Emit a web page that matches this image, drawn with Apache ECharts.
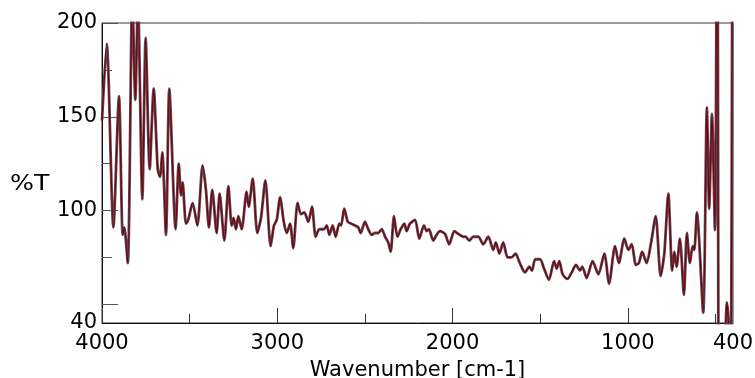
<!DOCTYPE html>
<html>
<head>
<meta charset="utf-8">
<script src="https://cdn.jsdelivr.net/npm/echarts@6/dist/echarts.min.js"></script>
<style>
html,body{margin:0;padding:0;background:#fff;}
#chart{width:755px;height:378px;}
</style>
</head>
<body>
<div id="chart"></div>
<script>
// Wavenumber (cm-1) and %T
var wavenumbers = [4000,3973,3935,3903,3882,3873,3853,3827,3810,3795,3770,3751,3728,3705,3682,3669,3656,3635,3616,3580,3562,3549,3540,3521,3508,3483,3456,3426,3407,3390,3371,3346,3329,3302,3279,3260,3249,3236,3222,3203,3175,3163,3140,3114,3093,3068,3038,3019,3003,2984,2963,2946,2927,2909,2884,2865,2846,2823,2802,2781,2760,2734,2718,2703,2684,2667,2646,2636,2618,2598,2579,2557,2538,2524,2500,2481,2461,2443,2424,2404,2385,2367,2353,2334,2315,2296,2275,2262,2243,2214,2190,2163,2148,2135,2110,2091,2072,2043,2019,1990,1967,1939,1925,1905,1882,1853,1825,1796,1768,1753,1733,1711,1686,1663,1640,1621,1602,1587,1562,1547,1528,1501,1478,1450,1421,1406,1391,1372,1345,1320,1296,1273,1260,1235,1201,1168,1134,1107,1073,1051,1020,997,978,954,937,918,893,868,841,813,792,769,747,735,722,703,680,663,646,630,621,606,570,549,536,520,503,490,478,460,442,435,425,418,410,405,400];
var transmittance = [148,189,91,161,87,91,72,215,159,212,106,192,122,165,122,118,131,87,165,90,125,108,115,93,95,104,92,124,111,91,111,88,109,84,113,92,96,90,97,90,110,102,117,88,96,116,81,92,95,107,94,88,93,80,104,98,99,94,102,86,90,90,92,87,92,86,93,92,101,94,93,92,91,88,94,90,87,88,88,90,86,83,78,97,86,90,93,89,93,95,85,92,89,90,84,87,89,87.5,82,89,87.5,86,86,84,86,86,82,86,79,83,77,83,75,75,77,73,69,67,70,68,74,74,69,63,73,69,73,66,63.5,67,71,68,70,64,73,66,77,61,81,72,85,79,82,71,72,78,72,82.5,97,65,77,109,68,78,70,85,55,88,72,81,79,99,45.5,155,101,151.5,89.6,300,-100,0,38,51,38,-20,40,200,320];

var xLabelValues = [4000,3000,2000,1000,400];
var xMajorTicks = [4000,3000,2000,1000];
var xMinorTicks = [3500,2500,1500,500];
var yLabelValues = [40,100,150,200];
var yMajorTicks = [50,100,150,200];
var yMinorTicks = [75,125,175];

var pts = wavenumbers.map(function(w,i){return [w, transmittance[i]];});
var FONT = 'DejaVu Sans';
function plain(v){ return String(v); }

var chart = echarts.init(document.getElementById('chart'), null, {renderer:'canvas'});
chart.setOption({
  animation:false,
  backgroundColor:'#fff',
  grid:{left:102,right:22,top:23,bottom:55,containLabel:false,outerBoundsMode:'none',show:true,borderColor:'#333',borderWidth:1,backgroundColor:'transparent'},
  xAxis:[{
    type:'value', inverse:true, min:400, max:4000, position:'bottom',
    axisLine:{show:true,lineStyle:{color:'#111',width:1}},
    axisTick:{show:true,inside:true,length:15,customValues:xMajorTicks,lineStyle:{color:'#333'}},
    axisLabel:{show:true,customValues:xLabelValues,formatter:plain,fontFamily:FONT,fontSize:21,color:'#000',margin:10,showMinLabel:true,showMaxLabel:true},
    splitLine:{show:false},
    name:'Wavenumber [cm-1]', nameLocation:'middle', nameGap:37,
    nameTextStyle:{fontFamily:FONT,fontSize:21,color:'#000'}
  },{
    type:'value', inverse:true, min:400, max:4000, position:'bottom',
    axisLine:{show:false},
    axisTick:{show:true,inside:true,length:9,customValues:xMinorTicks,lineStyle:{color:'#333'}},
    axisLabel:{show:false},
    splitLine:{show:false}
  }],
  yAxis:[{
    type:'value', min:40, max:200, position:'left',
    axisLine:{show:true,lineStyle:{color:'#111',width:1}},
    axisTick:{show:true,inside:true,length:16,customValues:yMajorTicks,lineStyle:{color:'#555'}},
    axisLabel:{show:true,customValues:yLabelValues,formatter:plain,fontFamily:FONT,fontSize:21,color:'#000',margin:5},
    splitLine:{show:false}
  },{
    type:'value', min:40, max:200, position:'left',
    axisLine:{show:false},
    axisTick:{show:true,inside:true,length:10,customValues:yMinorTicks,lineStyle:{color:'#555'}},
    axisLabel:{show:false},
    splitLine:{show:false}
  }],
  graphic:[{
    type:'text', left:10, top:174, scaleX:1.2,
    style:{text:'%T', font:'21px "DejaVu Sans"', fill:'#000'}
  }],
  series:[{
    type:'line', xAxisIndex:0, yAxisIndex:0, data:pts, showSymbol:false, smooth:0.25, clip:true,
    lineStyle:{color:'#5a4a5e',width:2.8}
  },{
    type:'line', xAxisIndex:0, yAxisIndex:0, data:pts, showSymbol:false, smooth:0.25, clip:true,
    lineStyle:{color:'#7d0000',width:1.2}
  }]
});
</script>
</body>
</html>
